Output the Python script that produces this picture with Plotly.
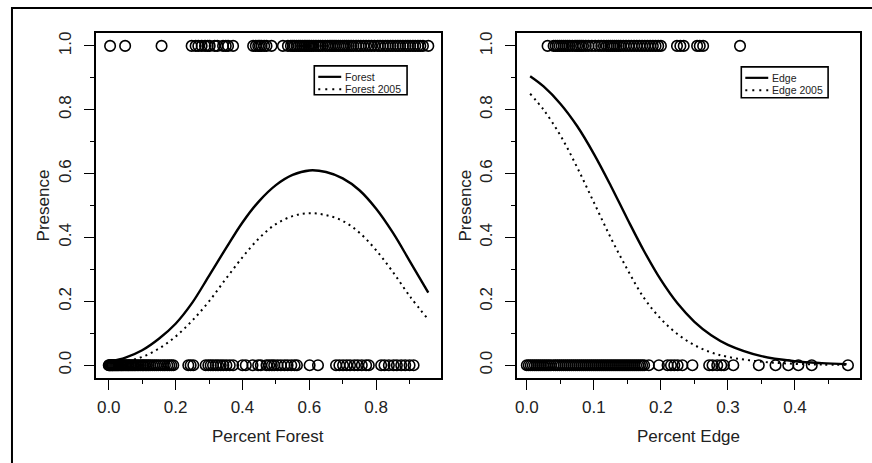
import plotly.graph_objects as go

# ---------------- data ----------------
forest_pres_x = [0.004, 0.049, 0.158,
                 0.248, 0.26, 0.268, 0.278, 0.288, 0.296, 0.302, 0.317, 0.325, 0.342, 0.35, 0.357,
                 0.372, 0.432, 0.44, 0.447, 0.452, 0.457, 0.465, 0.472, 0.487,
                 0.521, 0.536, 0.545, 0.551, 0.556, 0.562, 0.568, 0.573, 0.579, 0.585, 0.59,
                 0.596, 0.601, 0.607, 0.613, 0.62, 0.627, 0.633, 0.64, 0.648, 0.655, 0.662,
                 0.668, 0.674, 0.68, 0.687, 0.693, 0.7, 0.706, 0.712, 0.718, 0.725, 0.732, 0.74,
                 0.747, 0.754, 0.762, 0.77, 0.778, 0.786, 0.795, 0.805, 0.812, 0.82, 0.828,
                 0.835, 0.843, 0.85, 0.858, 0.865, 0.872, 0.88, 0.888, 0.895, 0.902, 0.91,
                 0.917, 0.925, 0.932, 0.94, 0.956]
forest_abs_x = [0.0, 0.002, 0.004, 0.006, 0.009, 0.011, 0.013, 0.016, 0.019, 0.022, 0.025,
                0.028, 0.031, 0.035, 0.038, 0.041, 0.045, 0.049, 0.053, 0.057, 0.06, 0.064,
                0.068, 0.072, 0.076, 0.08, 0.085, 0.09, 0.095, 0.1, 0.104, 0.109, 0.114, 0.119,
                0.124, 0.13, 0.136, 0.142, 0.148, 0.155, 0.162, 0.168, 0.175, 0.181, 0.187,
                0.193, 0.238, 0.245, 0.253, 0.29, 0.298, 0.305, 0.312, 0.32, 0.327, 0.335,
                0.343, 0.352, 0.362, 0.372, 0.4, 0.41, 0.43, 0.447, 0.455, 0.472, 0.48, 0.488,
                0.495, 0.505, 0.515, 0.526, 0.535, 0.546, 0.556, 0.563, 0.601, 0.626, 0.68,
                0.69, 0.701, 0.712, 0.722, 0.735, 0.745, 0.757, 0.77, 0.778, 0.815, 0.825,
                0.838, 0.852, 0.862, 0.875, 0.887, 0.9, 0.912]

forest_curve_x = [0.005, 0.05, 0.1, 0.15, 0.2, 0.25, 0.3, 0.35, 0.4, 0.45, 0.5, 0.55, 0.6,
                  0.65, 0.7, 0.75, 0.8, 0.85, 0.9, 0.956]
forest_fit = [0.012, 0.024, 0.047, 0.083, 0.13, 0.196, 0.28, 0.365, 0.447, 0.514, 0.564, 0.596,
              0.61, 0.605, 0.585, 0.548, 0.49, 0.415, 0.327, 0.227]
forest_fit_2005 = [0.005, 0.012, 0.026, 0.052, 0.09, 0.14, 0.2, 0.27, 0.338, 0.398, 0.442, 0.467,
                   0.476, 0.47, 0.452, 0.415, 0.36, 0.292, 0.217, 0.143]

edge_pres_x = [0.031, 0.04, 0.043, 0.046, 0.049, 0.052, 0.055, 0.058, 0.061, 0.064, 0.068,
               0.072, 0.075, 0.078, 0.081, 0.084, 0.088, 0.092, 0.097, 0.102, 0.107, 0.111,
               0.115, 0.119, 0.122, 0.125, 0.128, 0.131, 0.134, 0.137, 0.14, 0.144, 0.148,
               0.152, 0.156, 0.16, 0.164, 0.168, 0.172, 0.176, 0.18, 0.184, 0.188, 0.192,
               0.196, 0.2, 0.224, 0.229, 0.234, 0.254, 0.258, 0.263, 0.318]
edge_abs_x = [0.0, 0.003, 0.006, 0.009, 0.012, 0.015, 0.018, 0.021, 0.024, 0.027, 0.03, 0.033,
              0.036, 0.04, 0.043, 0.046, 0.049, 0.052, 0.055, 0.058, 0.061, 0.064, 0.067, 0.07,
              0.073, 0.076, 0.079, 0.082, 0.085, 0.088, 0.091, 0.094, 0.097, 0.1, 0.103, 0.106,
              0.109, 0.112, 0.115, 0.118, 0.121, 0.124, 0.127, 0.13, 0.133, 0.136, 0.139,
              0.142, 0.145, 0.148, 0.151, 0.154, 0.157, 0.16, 0.163, 0.166, 0.169, 0.172,
              0.175, 0.182, 0.197, 0.21, 0.215, 0.22, 0.225, 0.232, 0.247, 0.272, 0.277,
              0.284, 0.29, 0.294, 0.308, 0.346, 0.371, 0.39, 0.405, 0.425, 0.479]

edge_curve_x = [0.005, 0.025, 0.05, 0.075, 0.1, 0.125, 0.15, 0.175, 0.2, 0.225, 0.25, 0.275,
                0.3, 0.35, 0.4, 0.44, 0.477]
edge_fit = [0.905, 0.873, 0.819, 0.749, 0.662, 0.563, 0.458, 0.357, 0.267, 0.193, 0.136, 0.094,
            0.064, 0.0285, 0.0125, 0.0064, 0.0035]
edge_fit_2005 = [0.85, 0.80, 0.72, 0.62, 0.51, 0.40, 0.30, 0.21, 0.145, 0.097, 0.063, 0.04,
                 0.026, 0.011, 0.0043, 0.002, 0.001]

y_ticks = [0.0, 0.2, 0.4, 0.6, 0.8, 1.0]
forest_ticks = [0.0, 0.2, 0.4, 0.6, 0.8]
edge_ticks = [0.0, 0.1, 0.2, 0.3, 0.4]

# ---------------- figure ----------------
W, H = 872, 463
FONT = "Liberation Sans"


def px(x):
    return x / W


def py(y):
    return 1 - y / H


fig = go.Figure()

circ = dict(symbol="circle-open", size=10.5, color="black", line=dict(width=1.6, color="black"))

fig.add_trace(go.Scatter(x=forest_pres_x, y=[1] * len(forest_pres_x), mode="markers",
                         marker=circ, xaxis="x", yaxis="y", showlegend=False))
fig.add_trace(go.Scatter(x=forest_abs_x, y=[0] * len(forest_abs_x), mode="markers",
                         marker=circ, xaxis="x", yaxis="y", showlegend=False))
fig.add_trace(go.Scatter(x=forest_curve_x, y=forest_fit, mode="lines", line_shape="spline",
                         line=dict(color="black", width=2.4), xaxis="x", yaxis="y", showlegend=False))
fig.add_trace(go.Scatter(x=forest_curve_x, y=forest_fit_2005, mode="lines", line_shape="spline",
                         line=dict(color="black", width=2, dash="2px,4px"), xaxis="x", yaxis="y",
                         showlegend=False))

fig.add_trace(go.Scatter(x=edge_pres_x, y=[1] * len(edge_pres_x), mode="markers",
                         marker=circ, xaxis="x2", yaxis="y2", showlegend=False))
fig.add_trace(go.Scatter(x=edge_abs_x, y=[0] * len(edge_abs_x), mode="markers",
                         marker=circ, xaxis="x2", yaxis="y2", showlegend=False))
fig.add_trace(go.Scatter(x=edge_curve_x, y=edge_fit, mode="lines", line_shape="spline",
                         line=dict(color="black", width=2.4), xaxis="x2", yaxis="y2", showlegend=False))
fig.add_trace(go.Scatter(x=edge_curve_x, y=edge_fit_2005, mode="lines", line_shape="spline",
                         line=dict(color="black", width=2, dash="2px,4px"), xaxis="x2", yaxis="y2",
                         showlegend=False))

ydom = [py(378), py(32)]
ax_common = dict(showline=True, mirror=True, linecolor="black", linewidth=1.6, showgrid=False,
                 zeroline=False, ticks="outside", ticklen=10, tickwidth=1.4, tickcolor="black",
                 tickfont=dict(family=FONT, size=17, color="#222"))
minor_y = dict(dtick=0.1, tick0=0, ticklen=4, tickwidth=1.4, tickcolor="black", ticks="outside")

fig.update_layout(
    width=W, height=H, margin=dict(l=0, r=0, t=0, b=0),
    paper_bgcolor="white", plot_bgcolor="white", showlegend=False,
    xaxis=dict(domain=[px(94), px(440)], range=[-0.0388, 0.994], anchor="y",
               tickvals=forest_ticks, ticktext=["%.1f" % v for v in forest_ticks],
               ticklabelstandoff=3,
               minor=dict(dtick=0.1, tick0=0, ticklen=4, tickwidth=1.4, tickcolor="black",
                          ticks="outside"), **ax_common),
    yaxis=dict(domain=ydom, range=[-0.0406, 1.0406], anchor="x",
               tickvals=y_ticks, ticktext=["%.1f" % v for v in y_ticks], tickangle=-90,
               ticklabelstandoff=6, minor=minor_y, **ax_common),
    xaxis2=dict(domain=[px(516), px(860)], range=[-0.0149, 0.497], anchor="y2",
                tickvals=edge_ticks, ticktext=["%.1f" % v for v in edge_ticks],
                ticklabelstandoff=3,
                minor=dict(dtick=0.05, tick0=0, ticklen=4, tickwidth=1.4, tickcolor="black",
                           ticks="outside"), **ax_common),
    yaxis2=dict(domain=ydom, range=[-0.0406, 1.0406], anchor="x2",
                tickvals=y_ticks, ticktext=["%.1f" % v for v in y_ticks], tickangle=-90,
                ticklabelstandoff=6, minor=minor_y, **ax_common),
)

shapes = []
annots = []
# outer frame
shapes.append(dict(type="rect", xref="paper", yref="paper", x0=px(10), x1=px(880), y0=py(470),
                   y1=py(7), line=dict(color="black", width=2)))

# axis titles
for txt, cx, cy, ang in [("Percent Forest", 267, 436, 0), ("Percent Edge", 688, 436, 0),
                         ("Presence", 42, 205, -90), ("Presence", 465, 205, -90)]:
    annots.append(dict(text=txt, x=px(cx), y=py(cy), xref="paper", yref="paper", showarrow=False,
                       textangle=ang, xanchor="center", yanchor="middle",
                       font=dict(family=FONT, size=17, color="#222")))

# legends
for (bx0, bx1, by0, by1, labels) in [(313, 406, 65, 94, ["Forest", "Forest 2005"]),
                                     (741, 828, 66, 97, ["Edge", "Edge 2005"])]:
    shapes.append(dict(type="rect", xref="paper", yref="paper", x0=px(bx0), x1=px(bx1),
                       y0=py(by1), y1=py(by0), line=dict(color="black", width=1.6)))
    rows = [by0 + 11, by0 + 23.5]
    shapes.append(dict(type="line", xref="paper", yref="paper", x0=px(bx0 + 4), x1=px(bx0 + 27),
                       y0=py(rows[0]), y1=py(rows[0]), line=dict(color="black", width=2.2)))
    shapes.append(dict(type="line", xref="paper", yref="paper", x0=px(bx0 + 4), x1=px(bx0 + 27),
                       y0=py(rows[1]), y1=py(rows[1]),
                       line=dict(color="black", width=2, dash="2px,5px")))
    for lab, ry in zip(labels, rows):
        annots.append(dict(text=lab, x=px(bx0 + 29), y=py(ry), xref="paper", yref="paper",
                           showarrow=False, xanchor="left", yanchor="middle",
                           font=dict(family=FONT, size=10.5, color="#222")))

fig.update_layout(shapes=shapes, annotations=annots)

fig.write_html("out.html", config={"displayModeBar": False},
               post_script="document.body.style.margin='0px';")
